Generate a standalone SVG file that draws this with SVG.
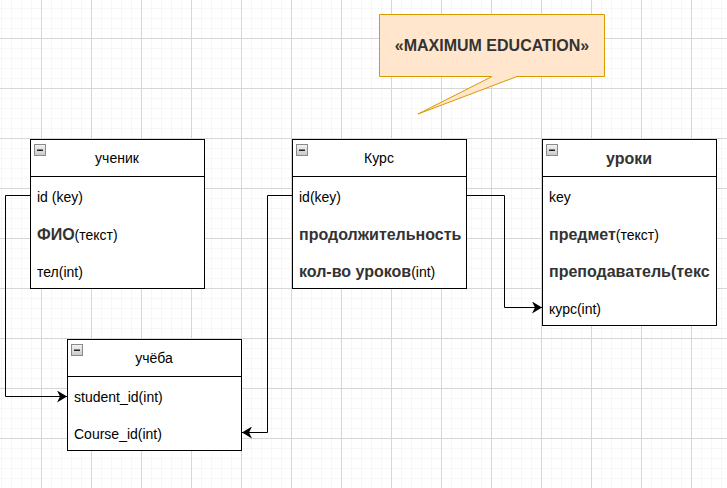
<svg xmlns="http://www.w3.org/2000/svg" width="727" height="488" viewBox="0 0 727 488">
  <defs>
    <pattern id="minor" patternUnits="userSpaceOnUse" x="1" y="8" width="10" height="10">
      <path d="M0,0 V10 M0,0 H10" fill="none" stroke="#efefef" stroke-width="1"/>
    </pattern>
    <pattern id="major" patternUnits="userSpaceOnUse" x="41" y="38" width="50" height="50">
      <path d="M0.5,0 V50 M0,0.5 H50" fill="none" stroke="#d6d6d6" stroke-width="1"/>
    </pattern>
    <linearGradient id="iconGrad" x1="0" y1="0" x2="0" y2="1">
      <stop offset="0" stop-color="#f4f4f4"/>
      <stop offset="1" stop-color="#c8c8c8"/>
    </linearGradient>
    <marker id="arrow" markerWidth="12" markerHeight="12" refX="10" refY="6" orient="auto" markerUnits="userSpaceOnUse">
      <path d="M0,0 L10,6 L0,12 L3,6 Z" fill="#000"/>
    </marker>
    <g id="icon">
      <rect x="0.5" y="0.5" width="11" height="11" fill="url(#iconGrad)" stroke="#8a8a8a"/>
      <rect x="3" y="5.5" width="6" height="1.5" fill="#222"/>
    </g>
  </defs>
  <style>
    .node { fill: #fff; stroke: #000; stroke-width: 1; }
    .sep { stroke: #000; stroke-width: 1; }
    text { font-family: "Liberation Sans", Arial, sans-serif; font-size: 14px; fill: #000; }
    .b { font-weight: bold; fill: #333; font-size: 16px; }
    .title { text-anchor: middle; }
    .edge { fill: none; stroke: #000; stroke-width: 1; }
  </style>
  <rect width="727" height="488" fill="#fff"/>
  <rect width="727" height="488" fill="url(#minor)"/>
  <rect width="727" height="488" fill="url(#major)"/>

  <g id="callout">
    <path d="M379.5,14.5 H604.5 V76.5 H517 L418,114 L492,76.5 H379.5 Z" fill="#ffe6cc" stroke="#d79b00" stroke-width="1"/>
    <text x="492" y="51" text-anchor="middle" style="font-size:16px;font-weight:bold;fill:#333">«MAXIMUM EDUCATION»</text>
  </g>

  <g id="node-uchenik">
    <rect class="node" x="30.5" y="139.5" width="174" height="149"/>
    <line class="sep" x1="30.5" y1="176.5" x2="204.5" y2="176.5"/>
    <use href="#icon" x="34" y="144"/>
    <text class="title" x="117" y="163">ученик</text>
    <text x="37" y="202">id (key)</text>
    <text x="37" y="240"><tspan class="b">ФИО</tspan>(текст)</text>
    <text x="37" y="277">тел(int)</text>
  </g>

  <g id="node-kurs">
    <rect class="node" x="292.5" y="139.5" width="174" height="149"/>
    <line class="sep" x1="292.5" y1="176.5" x2="466.5" y2="176.5"/>
    <use href="#icon" x="296" y="144"/>
    <text class="title" x="379" y="163">Курс</text>
    <text x="299" y="202">id(key)</text>
    <text x="299" y="240" class="b">продолжительность</text>
    <text x="299" y="277"><tspan class="b">кол-во уроков</tspan>(int)</text>
  </g>

  <g id="node-uroki">
    <rect class="node" x="542.5" y="139.5" width="174" height="186"/>
    <line class="sep" x1="542.5" y1="176.5" x2="716.5" y2="176.5"/>
    <use href="#icon" x="546" y="144"/>
    <text class="title b" x="629" y="164">уроки</text>
    <text x="549" y="202">key</text>
    <text x="549" y="240"><tspan class="b">предмет</tspan>(текст)</text>
    <text x="549" y="277" class="b">преподаватель(текс</text>
    <text x="549" y="314">курс(int)</text>
  </g>

  <g id="node-ucheba">
    <rect class="node" x="67.5" y="339.5" width="174" height="111"/>
    <line class="sep" x1="67.5" y1="376.5" x2="241.5" y2="376.5"/>
    <use href="#icon" x="71" y="344"/>
    <text class="title" x="154" y="363">учёба</text>
    <text x="74" y="402">student_id(int)</text>
    <text x="74" y="439">Course_id(int)</text>
  </g>

  <g id="connectors">
    <path class="edge" d="M30,195.5 H5.5 V396.5 H67" marker-end="url(#arrow)"/>
    <path class="edge" d="M292,195.5 H267.5 V432.5 H242" marker-end="url(#arrow)"/>
    <path class="edge" d="M466,195.5 H504.5 V307.5 H542" marker-end="url(#arrow)"/>
  </g>
</svg>
